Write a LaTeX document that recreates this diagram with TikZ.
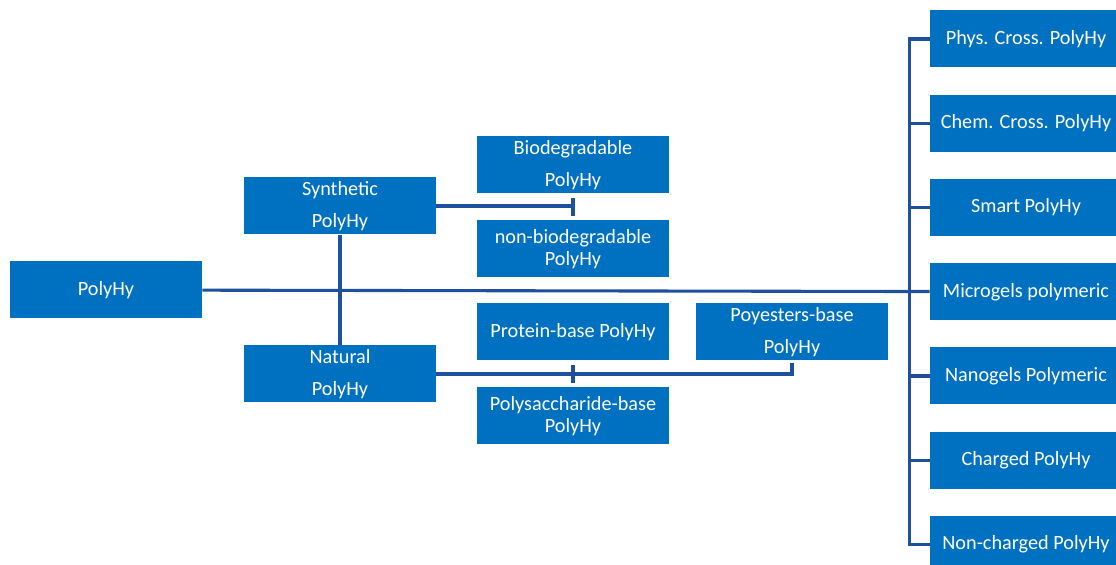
\documentclass[tikz,border=0pt]{standalone}
\usepackage{fontspec}
\setmainfont{Carlito}
\usetikzlibrary{positioning, calc}
\definecolor{boxblue}{RGB}{0,112,192}
\definecolor{lineblue}{RGB}{30,80,155}

\begin{document}
\begin{tikzpicture}[node distance=0.667cm,
  box/.style={fill=boxblue, text=white, minimum width=4.8cm, minimum height=1.425cm,
              inner sep=2pt, align=center, font=\fontsize{14.4}{15.6}\selectfont},
  link/.style={draw=lineblue, line width=2.2pt}]
  \useasboundingbox (0,0) rectangle (27.9,14.125);
  \clip (0,0) rectangle (27.9,14.125);

  % root and first level
  \node[box] (poly) at (2.65,6.875) {PolyHy};
  \node[box] (syn) at (8.5,8.975) {Synthetic\\[7pt]PolyHy};
  \node[box] (nat) at (8.5,4.775) {Natural\\[7pt]PolyHy};

  % synthetic branch
  \node[box] (bio) at (14.325,10.0) {Biodegradable\\[7pt]PolyHy};
  \node[box] (nonbio) at (14.325,7.9) {non-biodegradable\\PolyHy};

  % natural branch
  \node[box] (prot) at (14.325,5.825) {Protein-base PolyHy};
  \node[box] (sacch) at (14.325,3.725) {Polysaccharide-base\\PolyHy};
  \node[box] (polyest) at (19.8,5.825) {Poyesters-base\\[7pt]PolyHy};

  % right column
  \node[box] (phys) at (25.65,13.15) {Phys. Cross. PolyHy};
  \node[box, below=of phys] (chem) {Chem. Cross. PolyHy};
  \node[box, below=of chem] (smart) {Smart PolyHy};
  \node[box, below=of smart] (micro) {Microgels polymeric};
  \node[box, below=of micro] (nano) {Nanogels Polymeric};
  \node[box, below=of nano] (charged) {Charged PolyHy};
  \node[box, below=of charged] (noncharged) {Non-charged PolyHy};

  \coordinate (rail) at ($(micro.west)+(-0.5,0)$);

  \draw[link] (poly) -- (micro);
  \draw[link] (syn) -- (nat);
  \draw[link] (syn.east) -- (syn.east -| bio.south);
  \draw[link] ($(bio.south)+(0,-0.1)$) -- ($(nonbio.north)+(0,0.1)$);
  \draw[link] (nat.east) -- (nat.east -| polyest.south) -- ($(polyest.south)+(0,-0.05)$);
  \draw[link] ($(prot.south)+(0,-0.1)$) -- ($(sacch.north)+(0,0.1)$);

  % bracket to the right column
  \draw[link] (phys.west) -- (phys.west -| rail) -- (noncharged.west -| rail) -- (noncharged.west);
  \draw[link] (chem.west -| rail) -- (chem.west);
  \draw[link] (smart.west -| rail) -- (smart.west);
  \draw[link] (nano.west -| rail) -- (nano.west);
  \draw[link] (charged.west -| rail) -- (charged.west);
\end{tikzpicture}
\end{document}
